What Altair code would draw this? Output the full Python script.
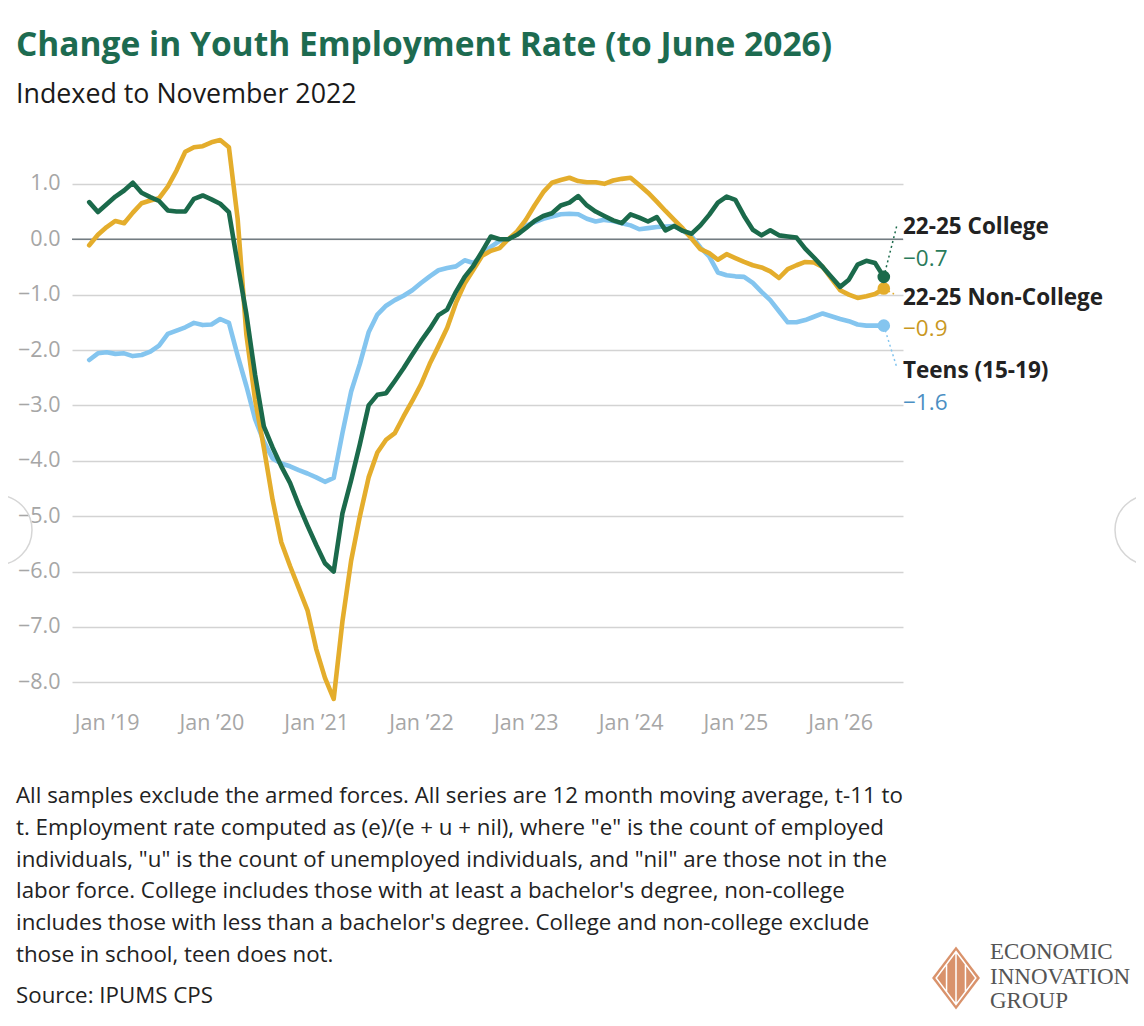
import altair as alt
import pandas as pd

# ---------------- data ----------------
start_month = "2018-11"
end_month = "2026-06"

series_names = ["22-25 College", "22-25 Non-College", "Teens (15-19)"]

college = [
    0.67, 0.49, 0.63, 0.77, 0.88, 1.02, 0.84, 0.76, 0.69, 0.52,
    0.50, 0.50, 0.73, 0.79, 0.72, 0.64, 0.49, -0.45, -1.35, -2.45,
    -3.38, -3.76, -4.10, -4.40, -4.80, -5.17, -5.52, -5.85, -6.00, -4.95,
    -4.35, -3.70, -3.00, -2.81, -2.78, -2.56, -2.33, -2.08, -1.84, -1.62,
    -1.37, -1.27, -0.95, -0.68, -0.48, -0.22, 0.05, 0.00, 0.00, 0.08,
    0.20, 0.33, 0.42, 0.47, 0.61, 0.66, 0.78, 0.61, 0.50, 0.42,
    0.34, 0.29, 0.45, 0.39, 0.32, 0.40, 0.16, 0.24, 0.15, 0.10,
    0.25, 0.44, 0.66, 0.77, 0.71, 0.42, 0.17, 0.07, 0.16, 0.07,
    0.05, 0.03, -0.17, -0.33, -0.50, -0.68, -0.86, -0.73, -0.46, -0.39,
    -0.43, -0.68,
]

noncollege = [
    -0.11, 0.08, 0.22, 0.33, 0.29, 0.48, 0.65, 0.70, 0.74, 0.95,
    1.24, 1.58, 1.66, 1.68, 1.75, 1.79, 1.66, 0.37, -1.72, -2.90,
    -3.76, -4.70, -5.47, -5.90, -6.30, -6.70, -7.40, -7.92, -8.30, -6.90,
    -5.80, -5.00, -4.30, -3.85, -3.62, -3.50, -3.20, -2.92, -2.62, -2.25,
    -1.93, -1.60, -1.15, -0.80, -0.55, -0.30, -0.21, -0.16, 0.00, 0.14,
    0.35, 0.61, 0.85, 1.02, 1.07, 1.11, 1.05, 1.03, 1.03, 1.00,
    1.06, 1.09, 1.11, 0.98, 0.84, 0.68, 0.51, 0.35, 0.19, 0.01,
    -0.18, -0.25, -0.37, -0.27, -0.34, -0.41, -0.47, -0.51, -0.58, -0.70,
    -0.54, -0.47, -0.41, -0.42, -0.50, -0.71, -0.92, -1.00, -1.06, -1.03,
    -0.99, -0.89,
]

teens = [
    -2.18, -2.06, -2.04, -2.07, -2.06, -2.11, -2.09, -2.03, -1.92, -1.71,
    -1.65, -1.59, -1.51, -1.55, -1.54, -1.44, -1.51, -2.10, -2.65, -3.25,
    -3.65, -3.96, -4.05, -4.10, -4.17, -4.23, -4.30, -4.38, -4.31, -3.50,
    -2.75, -2.25, -1.68, -1.36, -1.20, -1.10, -1.02, -0.92, -0.79, -0.67,
    -0.56, -0.52, -0.49, -0.38, -0.43, -0.28, -0.14, -0.03, 0.00, 0.10,
    0.24, 0.31, 0.37, 0.41, 0.45, 0.46, 0.45, 0.37, 0.32, 0.35,
    0.33, 0.29, 0.25, 0.18, 0.20, 0.22, 0.23, 0.24, 0.15, 0.05,
    -0.15, -0.31, -0.60, -0.65, -0.67, -0.68, -0.79, -0.95, -1.10, -1.30,
    -1.50, -1.50, -1.46, -1.40, -1.34, -1.39, -1.44, -1.48, -1.54, -1.56,
    -1.56, -1.56,
]

y_ticks = [1, 0, -1, -2, -3, -4, -5, -6, -7, -8]
x_tick_values = [0, 12, 24, 36, 48, 60, 72, 84]
x_tick_labels = ["Jan ’19", "Jan ’20", "Jan ’21", "Jan ’22",
                 "Jan ’23", "Jan ’24", "Jan ’25", "Jan ’26"]

title_text = "Change in Youth Employment Rate (to June 2026)"
subtitle_text = "Indexed to November 2022"
footnote_lines = [
    "All samples exclude the armed forces. All series are 12 month moving average, t-11 to",
    "t. Employment rate computed as (e)/(e + u + nil), where \"e\" is the count of employed",
    "individuals, \"u\" is the count of unemployed individuals, and \"nil\" are those not in the",
    "labor force. College includes those with at least a bachelor's degree, non-college",
    "includes those with less than a bachelor's degree. College and non-college exclude",
    "those in school, teen does not.",
]
source_text = "Source: IPUMS CPS"
logo_lines = ["ECONOMIC", "INNOVATION", "GROUP"]

# ---------------- styles ----------------
line_colors = ["#1b6a4b", "#e4ad2c", "#84c5ef"]
value_colors = ["#2a7b5b", "#c9981f", "#4b8fc3"]
FONT = "Open Sans"

months = pd.period_range(start_month, end_month, freq="M")
midx = [(p.year - 2019) * 12 + p.month - 1 for p in months]

frames = {}
for name, vals in zip(series_names, [college, noncollege, teens]):
    frames[name] = pd.DataFrame({"m": midx, "v": vals, "series": name})

xscale = alt.Scale(domain=[-3.97, 91.2], nice=False, zero=False)
yscale = alt.Scale(domain=[-8.5, 1.9], nice=False, zero=False)

label_expr = "[" + ",".join("'" + s + "'" for s in x_tick_labels) + "][datum.value/12]"

x_axis = alt.Axis(values=x_tick_values, labelExpr=label_expr, grid=False, domain=False,
                  ticks=False, labelFontSize=21.5, labelFont=FONT, labelColor="#a6a6a6",
                  labelPadding=2, title=None)
y_axis = alt.Axis(values=y_ticks, format=".1f", grid=True, gridColor="#d3d3d3", gridWidth=1.5,
                  domain=False, ticks=False, labelFontSize=21.5, labelFont=FONT,
                  labelColor="#a6a6a6", labelPadding=12, title=None)

base_all = pd.concat(frames.values())

axes_layer = alt.Chart(base_all).mark_point(opacity=0).encode(
    x=alt.X("m:Q", scale=xscale, axis=x_axis),
    y=alt.Y("v:Q", scale=yscale, axis=y_axis),
)

zero_df = pd.DataFrame({"v": [0]})
zero_rule = alt.Chart(zero_df).mark_rule(color="#737c82", strokeWidth=1.5).encode(
    y=alt.Y("v:Q", scale=yscale)
)

layers = [axes_layer, zero_rule]

draw_order = [2, 1, 0]
for i in draw_order:
    name = series_names[i]
    layers.append(
        alt.Chart(frames[name]).mark_line(strokeWidth=4.6, strokeJoin="round", strokeCap="round",
                                          color=line_colors[i]).encode(
            x=alt.X("m:Q", scale=xscale), y=alt.Y("v:Q", scale=yscale)
        )
    )

connector_ends = [(825, 91), (822, 160), (825, 234)]
name_label_y = [93, 163.5, 237]
value_label_y = [125, 194.5, 268.5]
for i in draw_order:
    name = series_names[i]
    last = frames[name].tail(1)
    layers.append(
        alt.Chart(last).mark_rule(strokeDash=[2, 3], strokeWidth=1.5, color=line_colors[i]).encode(
            x=alt.X("m:Q", scale=xscale), y=alt.Y("v:Q", scale=yscale),
            x2=alt.value(connector_ends[i][0]), y2=alt.value(connector_ends[i][1]),
        )
    )
for i in draw_order:
    name = series_names[i]
    last = frames[name].tail(1)
    layers.append(
        alt.Chart(last).mark_circle(size=160, opacity=1, color=line_colors[i]).encode(
            x=alt.X("m:Q", scale=xscale), y=alt.Y("v:Q", scale=yscale)
        )
    )
    val_text = f"{last['v'].iloc[0]:.1f}".replace("-", "\u2212")
    layers.append(
        alt.Chart(last).mark_text(align="left", baseline="middle", font=FONT, fontSize=22.5,
                                  fontWeight="bold", color="#222222").encode(
            x=alt.value(831), y=alt.value(name_label_y[i]), text=alt.value(name)
        )
    )
    layers.append(
        alt.Chart(last).mark_text(align="left", baseline="middle", font=FONT, fontSize=22.5,
                                  color=value_colors[i]).encode(
            x=alt.value(831), y=alt.value(value_label_y[i]), text=alt.value(val_text)
        )
    )

one = pd.DataFrame({"a": [0]})
layers.append(
    alt.Chart(one).mark_text(align="left", baseline="alphabetic", font=FONT, fontSize=22.3,
                             lineHeight=31.8, color="#222222").encode(
        x=alt.value(-56), y=alt.value(669), text=alt.value(footnote_lines)
    )
)
layers.append(
    alt.Chart(one).mark_text(align="left", baseline="alphabetic", font=FONT, fontSize=22.3,
                             color="#222222").encode(
        x=alt.value(-56), y=alt.value(868.5), text=alt.value(source_text)
    )
)
layers.append(
    alt.Chart(one).mark_point(shape="M0,-1L0.76,0L0,1L-0.76,0Z", filled=True, opacity=1,
                              color="#d9926b", size=3969).encode(
        x=alt.value(884), y=alt.value(844)
    )
)
layers.append(
    alt.Chart(one).mark_point(
        shape="M0,-0.84L0.63,0L0,0.84L-0.63,0Z M0,-0.84L0,0.84 M-0.3,-0.42L-0.3,0.42 M0.3,-0.42L0.3,0.42",
        filled=False, opacity=1, color="white", strokeWidth=1.5, size=3969).encode(
        x=alt.value(884), y=alt.value(844)
    )
)
for k, t in enumerate(logo_lines):
    layers.append(
        alt.Chart(one).mark_text(align="left", baseline="alphabetic", font="Liberation Serif",
                                 fontSize=23, color="#555555").encode(
            x=alt.value(918), y=alt.value(825 + 24.5 * k), text=alt.value(t)
        )
    )
layers.append(
    alt.Chart(one).mark_point(shape="circle", filled=False, color="#d6d6d6", strokeWidth=1.5,
                              size=4900, opacity=1).encode(
        x=alt.value(-75), y=alt.value(396)
    )
)
layers.append(
    alt.Chart(one).mark_point(shape="circle", filled=False, color="#d6d6d6", strokeWidth=1.5,
                              size=4900, opacity=1).encode(
        x=alt.value(1078), y=alt.value(396)
    )
)

chart = alt.layer(*layers).properties(
    width=831,
    height=576,
    background="white",
    autosize=alt.AutoSizeParams(type="none"),
    padding={"left": 64, "top": 126, "right": 233, "bottom": 305},
    title=alt.Title(
        title_text, subtitle=subtitle_text, anchor="start", frame="group", dx=-56,
        font=FONT, fontSize=33.5, fontWeight="bold", color="#1d6b50",
        subtitleFont=FONT, subtitleFontSize=26.8, subtitleColor="#1a1a1a",
        subtitlePadding=19, offset=24,
    ),
).configure_view(stroke=None)

chart.save("out.html", embed_options={"renderer": "svg", "actions": False})
